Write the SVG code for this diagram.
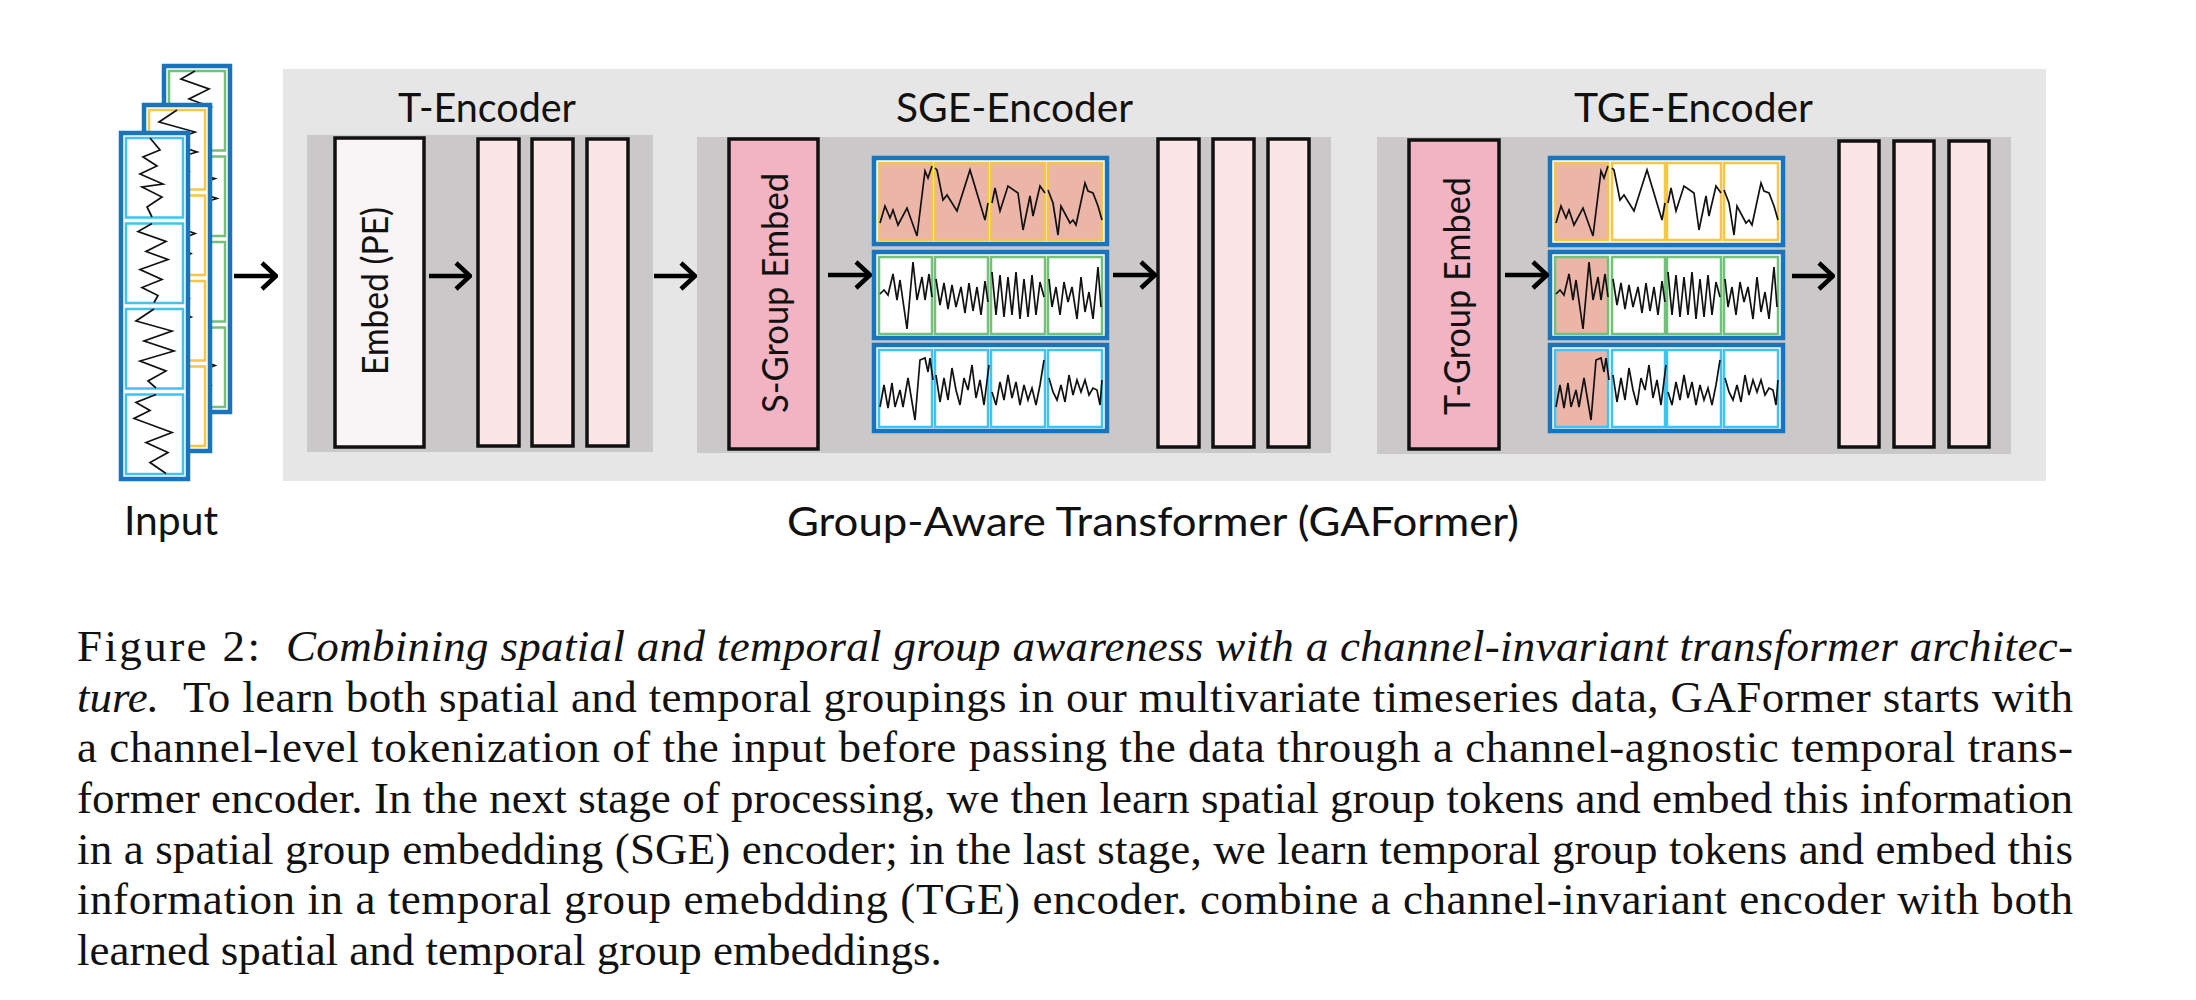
<svg xmlns="http://www.w3.org/2000/svg" xmlns:xlink="http://www.w3.org/1999/xlink" width="2196" height="1000" viewBox="0 0 2196 1000">
<style>
.lbl{font-family:Lato,"Open Sans","DejaVu Sans",sans-serif;fill:#111;}
.cap{font-family:"Liberation Serif","Times New Roman",serif;font-size:45px;fill:#111;}
.it{font-style:italic;}
.bar{fill:#fce5e7;stroke:#111;stroke-width:3.5;}
.panel{fill:#cac8c9;}
.ts polyline{fill:none;stroke:#111;stroke-width:1.7;stroke-linejoin:miter;}
.row{fill:#fff;stroke:#1a74bb;stroke-width:4.5;}
.cy{stroke:#f6c646;stroke-width:2.5;}
.cg{stroke:#72c07a;stroke-width:2.5;}
.cb{stroke:#42c3ef;stroke-width:2.5;}
.sal{fill:#ebb5a7;}
.wh{fill:#fff;}
.arr{stroke:#000;stroke-width:4.5;fill:none;}
.sheet{fill:#fff;stroke:#1a74bb;stroke-width:4.5;}
</style>
<defs>
<marker id="chev" viewBox="0 0 18 30" refX="16" refY="15" markerWidth="18" markerHeight="30" markerUnits="userSpaceOnUse" orient="auto">
<path d="M2,2 L16,15 L2,28" fill="none" stroke="#000" stroke-width="4.5"/>
</marker>
<g id="s11" class="ts"><polyline points="1,60 6,43 11,55 14,47 19,62 28,45 38,73 46,8 49,15 53,3"/></g>
<g id="s12" class="ts"><polyline points="0,5 2,7 8,37 12,32 22,48 35,7 50,57 53,40"/></g>
<g id="s13" class="ts"><polyline points="1,40 4,25 9,48 17,23 27,30 32,67 39,33 42,53 49,23 54,30"/></g>
<g id="s14" class="ts"><polyline points="0,27 5,40 10,72 13,43 22,60 25,57 28,62 37,20 40,28 45,30 50,43 54,57"/></g>
<g id="s21" class="ts"><polyline points="1,37 5,33 9,38 14,17 18,43 21,23 28,72 34,5 38,43 43,20 46,43 50,17 53,40"/></g>
<g id="s22" class="ts"><polyline points="1,22 5,48 9,26 13,52 17,28 21,50 26,30 30,56 34,26 38,54 42,30 46,58 50,24 53,45"/></g>
<g id="s23" class="ts"><polyline points="1,15 5,58 9,18 13,60 17,20 21,58 25,15 29,62 33,22 37,60 41,18 45,58 49,25 53,40"/></g>
<g id="s24" class="ts"><polyline points="1,22 4,50 8,30 12,58 16,25 20,45 24,30 29,62 33,20 37,55 41,35 45,62 50,10 53,50"/></g>
<g id="s31" class="ts"><polyline points="1,57 5,35 9,58 13,33 16,57 21,40 24,57 29,28 36,70 41,10 46,8 49,22 51,8 54,30"/></g>
<g id="s32" class="ts"><polyline points="1,25 5,52 9,28 13,50 17,18 21,40 25,55 29,28 33,40 37,15 41,48 45,30 49,55 54,15"/></g>
<g id="s33" class="ts"><polyline points="1,42 5,55 9,32 13,50 17,25 21,48 25,32 29,55 33,35 37,50 41,38 45,55 49,35 53,10"/></g>
<g id="s34" class="ts"><polyline points="1,28 5,42 9,50 13,35 17,52 21,25 25,45 29,30 33,42 37,30 41,45 45,38 49,40 52,55 54,30"/></g>
<g id="v1" class="ts"><polyline points="24,0 34,12 17,19 31,28 14,36 37,46 16,49 36,59 21,69 26,79"/></g>
<g id="v2" class="ts"><polyline points="26,0 12,8 40,18 20,28 42,36 14,46 36,56 16,64 32,72 28,79"/></g>
<g id="v3" class="ts"><polyline points="28,0 10,12 46,22 18,32 48,42 14,52 40,62 22,72 30,79"/></g>
<g id="v4" class="ts"><polyline points="30,0 10,8 24,16 8,24 46,38 20,48 42,58 24,68 40,79"/></g>
</defs>

<rect width="2196" height="1000" fill="#fff"/>

<!-- Input stack -->
<g id="input">
 <g id="sheet-back">
  <rect class="sheet" x="164" y="66" width="66" height="346"/>
  <rect class="wh cg" x="169" y="71" width="56" height="79.5"/>
  <rect class="wh cg" x="169" y="156.5" width="56" height="79.5"/>
  <rect class="wh cg" x="169" y="242" width="56" height="79.5"/>
  <rect class="wh cg" x="169" y="327.5" width="56" height="79.5"/>
  <use xlink:href="#v2" x="169" y="71"/><use xlink:href="#v3" x="169" y="156.5"/><use xlink:href="#v1" x="169" y="242"/><use xlink:href="#v4" x="169" y="327.5"/>
 </g>
 <g id="sheet-mid">
  <rect class="sheet" x="144" y="105" width="66" height="346"/>
  <rect class="wh cy" x="149" y="110" width="56" height="79.5"/>
  <rect class="wh cy" x="149" y="195.5" width="56" height="79.5"/>
  <rect class="wh cy" x="149" y="281" width="56" height="79.5"/>
  <rect class="wh cy" x="149" y="366.5" width="56" height="79.5"/>
  <use xlink:href="#v3" x="149" y="110"/><use xlink:href="#v4" x="149" y="195.5"/><use xlink:href="#v2" x="149" y="281"/><use xlink:href="#v1" x="149" y="366.5"/>
 </g>
 <g id="sheet-front">
  <rect class="sheet" x="121" y="133" width="67" height="346"/>
  <rect class="wh cb" x="126" y="138" width="57" height="79.5"/>
  <rect class="wh cb" x="126" y="223.5" width="57" height="79.5"/>
  <rect class="wh cb" x="126" y="309" width="57" height="79.5"/>
  <rect class="wh cb" x="126" y="394.5" width="57" height="79.5"/>
  <use xlink:href="#v1" x="126" y="138"/><use xlink:href="#v2" x="126" y="223.5"/><use xlink:href="#v3" x="126" y="309"/><use xlink:href="#v4" x="126" y="394.5"/>
 </g>
 <text class="lbl" x="124" y="535" font-size="41" textLength="94" lengthAdjust="spacingAndGlyphs">Input</text>
</g>

<!-- GAFormer background -->
<g id="gaformer">
 <rect x="283" y="69" width="1763" height="412" fill="#e6e6e6"/>
 <text class="lbl" x="787" y="536" font-size="41" textLength="732" lengthAdjust="spacingAndGlyphs">Group-Aware Transformer (GAFormer)</text>
</g>

<!-- T-Encoder -->
<g id="t-encoder">
 <text class="lbl" x="398" y="122" font-size="41" textLength="178" lengthAdjust="spacingAndGlyphs">T-Encoder</text>
 <rect class="panel" x="307" y="135" width="346" height="317"/>
 <g id="embed-pe">
  <rect x="335" y="138" width="89" height="309" fill="#f9f4f5" stroke="#111" stroke-width="3.5"/>
  <text class="lbl" transform="translate(388,291) rotate(-90)" text-anchor="middle" font-size="36" textLength="168" lengthAdjust="spacingAndGlyphs">Embed (PE)</text>
 </g>
 <g id="t-layers">
  <rect class="bar" x="478" y="139" width="41" height="307"/>
  <rect class="bar" x="532" y="139" width="41" height="307"/>
  <rect class="bar" x="587" y="139" width="41" height="307"/>
 </g>
</g>

<!-- SGE-Encoder -->
<g id="sge-encoder">
 <text class="lbl" x="896" y="122" font-size="41" textLength="237" lengthAdjust="spacingAndGlyphs">SGE-Encoder</text>
 <rect class="panel" x="697" y="137" width="634" height="316"/>
 <g id="s-group-embed">
  <rect x="729" y="139" width="89" height="310" fill="#f2b3c2" stroke="#111" stroke-width="3.5"/>
  <text class="lbl" transform="translate(788,293) rotate(-90)" text-anchor="middle" font-size="36" textLength="240" lengthAdjust="spacingAndGlyphs">S-Group Embed</text>
 </g>
 <g id="sge-grid">
  <rect class="row" x="874" y="158" width="233" height="86"/>
  <rect class="row" x="874" y="252" width="233" height="86"/>
  <rect class="row" x="874" y="345" width="233" height="86"/>
  <rect class="sal cy" x="879" y="163" width="53" height="77"/>
  <rect class="sal cy" x="935" y="163" width="53" height="77"/>
  <rect class="sal cy" x="991" y="163" width="54" height="77"/>
  <rect class="sal cy" x="1048" y="163" width="54" height="77"/>
  <rect class="wh cg" x="879" y="257" width="53" height="77"/>
  <rect class="wh cg" x="935" y="257" width="53" height="77"/>
  <rect class="wh cg" x="991" y="257" width="54" height="77"/>
  <rect class="wh cg" x="1048" y="257" width="54" height="77"/>
  <rect class="wh cb" x="879" y="350" width="53" height="77"/>
  <rect class="wh cb" x="935" y="350" width="53" height="77"/>
  <rect class="wh cb" x="991" y="350" width="54" height="77"/>
  <rect class="wh cb" x="1048" y="350" width="54" height="77"/>
  <use xlink:href="#s11" x="879" y="163"/><use xlink:href="#s12" x="935" y="163"/><use xlink:href="#s13" x="991" y="163"/><use xlink:href="#s14" x="1048" y="163"/>
  <use xlink:href="#s21" x="879" y="257"/><use xlink:href="#s22" x="935" y="257"/><use xlink:href="#s23" x="991" y="257"/><use xlink:href="#s24" x="1048" y="257"/>
  <use xlink:href="#s31" x="879" y="350"/><use xlink:href="#s32" x="935" y="350"/><use xlink:href="#s33" x="991" y="350"/><use xlink:href="#s34" x="1048" y="350"/>
 </g>
 <g id="sge-layers">
  <rect class="bar" x="1158" y="139" width="41" height="308"/>
  <rect class="bar" x="1213" y="139" width="41" height="308"/>
  <rect class="bar" x="1268" y="139" width="41" height="308"/>
 </g>
</g>

<!-- TGE-Encoder -->
<g id="tge-encoder">
 <text class="lbl" x="1574" y="122" font-size="41" textLength="239" lengthAdjust="spacingAndGlyphs">TGE-Encoder</text>
 <rect class="panel" x="1377" y="137" width="634" height="317"/>
 <g id="t-group-embed">
  <rect x="1409" y="140" width="90" height="309" fill="#f2b3c2" stroke="#111" stroke-width="3.5"/>
  <text class="lbl" transform="translate(1470,296) rotate(-90)" text-anchor="middle" font-size="36" textLength="238" lengthAdjust="spacingAndGlyphs">T-Group Embed</text>
 </g>
 <g id="tge-grid">
  <rect class="row" x="1550" y="158" width="233" height="87"/>
  <rect class="row" x="1550" y="252" width="233" height="86"/>
  <rect class="row" x="1550" y="345" width="233" height="86"/>
  <rect class="sal cy" x="1555" y="163" width="53" height="77"/>
  <rect class="wh cy" x="1612" y="163" width="53" height="77"/>
  <rect class="wh cy" x="1667" y="163" width="54" height="77"/>
  <rect class="wh cy" x="1724" y="163" width="54" height="77"/>
  <rect class="sal cg" x="1555" y="257" width="53" height="77"/>
  <rect class="wh cg" x="1612" y="257" width="53" height="77"/>
  <rect class="wh cg" x="1667" y="257" width="54" height="77"/>
  <rect class="wh cg" x="1724" y="257" width="54" height="77"/>
  <rect class="sal cb" x="1555" y="350" width="53" height="77"/>
  <rect class="wh cb" x="1612" y="350" width="53" height="77"/>
  <rect class="wh cb" x="1667" y="350" width="54" height="77"/>
  <rect class="wh cb" x="1724" y="350" width="54" height="77"/>
  <use xlink:href="#s11" x="1555" y="163"/><use xlink:href="#s12" x="1612" y="163"/><use xlink:href="#s13" x="1667" y="163"/><use xlink:href="#s14" x="1724" y="163"/>
  <use xlink:href="#s21" x="1555" y="257"/><use xlink:href="#s22" x="1612" y="257"/><use xlink:href="#s23" x="1667" y="257"/><use xlink:href="#s24" x="1724" y="257"/>
  <use xlink:href="#s31" x="1555" y="350"/><use xlink:href="#s32" x="1612" y="350"/><use xlink:href="#s33" x="1667" y="350"/><use xlink:href="#s34" x="1724" y="350"/>
 </g>
 <g id="tge-layers">
  <rect class="bar" x="1839" y="141" width="40" height="306"/>
  <rect class="bar" x="1894" y="141" width="40" height="306"/>
  <rect class="bar" x="1949" y="141" width="40" height="306"/>
 </g>
</g>

<!-- connectors -->
<g id="connectors" class="arr">
 <line x1="234" y1="276" x2="276" y2="276" marker-end="url(#chev)"/>
 <line x1="429" y1="276" x2="470" y2="276" marker-end="url(#chev)"/>
 <line x1="654" y1="276" x2="695" y2="276" marker-end="url(#chev)"/>
 <line x1="828" y1="275" x2="870" y2="275" marker-end="url(#chev)"/>
 <line x1="1113" y1="275" x2="1155" y2="275" marker-end="url(#chev)"/>
 <line x1="1505" y1="275" x2="1547" y2="275" marker-end="url(#chev)"/>
 <line x1="1792" y1="276" x2="1833" y2="276" marker-end="url(#chev)"/>
</g>

<!-- caption -->
<g id="caption">
 <text class="cap" x="77" y="661" textLength="183">Figure 2:</text>
 <text class="cap it" x="286" y="661" textLength="1787">Combining spatial and temporal group awareness with a channel-invariant transformer architec-</text>
 <text class="cap it" x="77" y="712">ture.</text>
 <text class="cap" x="183" y="712" textLength="1890">To learn both spatial and temporal groupings in our multivariate timeseries data, GAFormer starts with</text>
 <text class="cap" x="77" y="762" textLength="1996">a channel-level tokenization of the input before passing the data through a channel-agnostic temporal trans-</text>
 <text class="cap" x="77" y="813" textLength="1996">former encoder. In the next stage of processing, we then learn spatial group tokens and embed this information</text>
 <text class="cap" x="77" y="864" textLength="1996">in a spatial group embedding (SGE) encoder; in the last stage, we learn temporal group tokens and embed this</text>
 <text class="cap" x="77" y="914" textLength="1996">information in a temporal group emebdding (TGE) encoder.  combine a channel-invariant encoder with both</text>
 <text class="cap" x="77" y="965">learned spatial and temporal group embeddings.</text>
</g>
</svg>
